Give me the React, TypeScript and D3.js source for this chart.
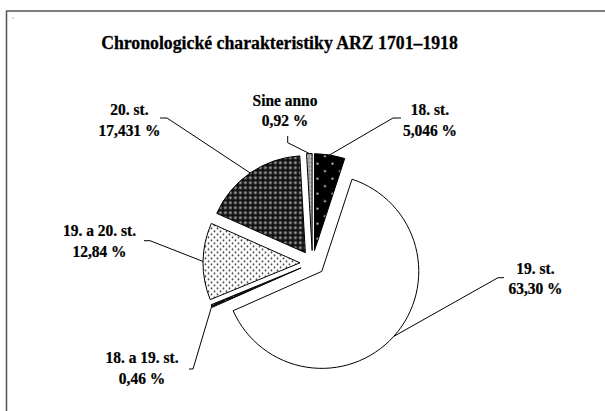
import React from "react";
import * as d3 from "d3";

// data
const categories = ["18. st.", "19. st.", "18. a 19. st.", "19. a 20. st.", "20. st.", "Sine anno"];
const values = [5.046, 63.3, 0.46, 12.84, 17.431, 0.92];
const valueLabels = ["5,046 %", "63,30 %", "0,46 %", "12,84 %", "17,431 %", "0,92 %"];
const fills = ["url(#pDots)", "#ffffff", "url(#pDark)", "url(#pFine)", "url(#pPlaid)", "url(#pGray)"];

// label layout: [center x, first baseline], and the leader's label-side points
const labelPos = [
  [430, 115],
  [535.5, 273.5],
  [142, 363],
  [99.5, 236],
  [129.5, 115],
  [285, 105.5],
];
const leaderStart = [
  [[401, 118], [393, 118]],
  [[504, 277.7], [498, 277.7]],
  [[189, 369], [193, 369]],
  [[144, 240.7], [150, 240.7]],
  [[160, 118], [167, 118]],
  [[287.7, 136], [287.7, 142.7]],
];

const W = 605;
const H = 411;
const cx = 312.5;
const cy = 263;
const R = 97;
const explode = 12.5;
const font = "'Liberation Serif', 'Times New Roman', serif";

export default function App() {
  const pie = d3.pie<number>().sort(null).value((d) => d);
  const arcs = pie(values);
  const arc = d3.arc<d3.PieArcDatum<number>>().innerRadius(0).outerRadius(R);
  const line = d3.line();

  return (
    <svg width={W} height={H} style={{ position: "absolute", left: 0, top: 0, background: "#fff" }}>
      <defs>
        <pattern id="pDots" width="15" height="15" patternUnits="userSpaceOnUse">
          <rect width="15" height="15" fill="#000" />
          <circle cx="3" cy="3" r="1" fill="#fff" />
          <circle cx="10.5" cy="10.5" r="1" fill="#fff" />
        </pattern>
        <pattern id="pFine" width="6" height="6" patternUnits="userSpaceOnUse">
          <rect width="6" height="6" fill="#fff" />
          <circle cx="1.5" cy="1.5" r="0.9" fill="#333" />
          <circle cx="4.5" cy="4.5" r="0.9" fill="#333" />
        </pattern>
        <pattern id="pPlaid" width="5" height="5" patternUnits="userSpaceOnUse">
          <rect width="5" height="5" fill="#6e6e6e" />
          <rect x="0" y="1.5" width="5" height="2" fill="#0a0a0a" />
          <rect x="1.5" y="0" width="2" height="5" fill="#0a0a0a" />
          <circle cx="0" cy="0" r="0.7" fill="#ddd" />
          <circle cx="5" cy="5" r="0.7" fill="#ddd" />
          <circle cx="5" cy="0" r="0.7" fill="#ddd" />
          <circle cx="0" cy="5" r="0.7" fill="#ddd" />
        </pattern>
        <pattern id="pGray" width="3" height="4" patternUnits="userSpaceOnUse">
          <rect width="3" height="4" fill="#9a9a9a" />
          <circle cx="1.5" cy="2" r="0.8" fill="#fff" />
        </pattern>
        <pattern id="pDark" width="4" height="4" patternUnits="userSpaceOnUse">
          <rect width="4" height="4" fill="#111" />
          <rect x="0" y="0" width="1" height="1" fill="#777" />
        </pattern>
      </defs>

      {/* frame */}
      <line x1={6.5} y1={11} x2={6.5} y2={H} stroke="#555" strokeWidth={1.5} />
      <line x1={6} y1={11} x2={W} y2={11} stroke="#555" strokeWidth={1.5} />
      <rect x={12.5} y={17.5} width={1} height={1} fill="#666" />

      <g transform="translate(279.5,48.5) scale(0.91,1)">
        <text textAnchor="middle" fontFamily={font} fontWeight="bold" fontSize={19.5} fill="#000" stroke="#000" strokeWidth={0.3}>
          Chronologické charakteristiky ARZ 1701–1918
        </text>
      </g>

      {arcs.map((a, i) => {
        const mid = (a.startAngle + a.endAngle) / 2;
        const ox = cx + Math.sin(mid) * explode;
        const oy = cy - Math.cos(mid) * explode;
        return (
          <path
            key={"s" + i}
            d={arc(a) || ""}
            transform={`translate(${ox},${oy})`}
            fill={fills[i]}
            stroke="#000"
            strokeWidth={1}
          />
        );
      })}

      {arcs.map((a, i) => {
        const mid = (a.startAngle + a.endAngle) / 2;
        const ex = cx + Math.sin(mid) * (explode + R);
        const ey = cy - Math.cos(mid) * (explode + R);
        const pts = [...leaderStart[i], [ex, ey]] as [number, number][];
        return <path key={"l" + i} d={line(pts) || ""} fill="none" stroke="#000" strokeWidth={1} />;
      })}

      {categories.map((c, i) => (
        <g key={"t" + i} transform={`translate(${labelPos[i][0]},${labelPos[i][1]}) scale(0.91,1)`}>
          <text textAnchor="middle" fontFamily={font} fontWeight="bold" fontSize={17} fill="#000" stroke="#000" strokeWidth={0.25}>
            {c}
          </text>
          <text y={21} textAnchor="middle" fontFamily={font} fontWeight="bold" fontSize={17} fill="#000" stroke="#000" strokeWidth={0.25}>
            {valueLabels[i]}
          </text>
        </g>
      ))}
    </svg>
  );
}
